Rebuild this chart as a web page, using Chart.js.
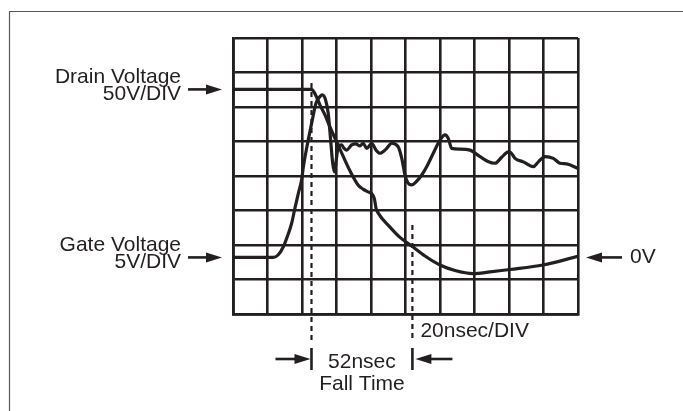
<!DOCTYPE html>
<html>
<head>
<meta charset="utf-8">
<script src="https://cdn.jsdelivr.net/npm/chart.js@4/dist/chart.umd.min.js"></script>
<style>
  body { margin: 0; background: #fff; }
  canvas { display: block; }
</style>
</head>
<body>
<canvas id="scope" width="683" height="411"></canvas>
<script>
// time axis in nsec (20nsec per division), vertical axis in screen divisions
const timeNs = { min: 0, max: 200, perDiv: 20 };
const divisions = { min: 0, max: 8 };

// gate voltage trace (5V/DIV), 0V level at ~1.64 div
const gateTime = [0, 23.4, 26.1, 29.2, 31.6, 34.0, 35.9, 37.9, 39.8, 40.8, 42.7, 45.6, 48.1, 50.4, 51.8,
  53.7, 55.2, 56.6, 57.8, 58.8, 60.1, 61.0, 63.0, 64.3, 65.9, 68.8, 71.3, 73.6, 75.5, 77.5, 80.4,
  82.9, 85.2, 88.7, 92.0, 95.7, 97.8, 99.7, 101.4, 103.6, 106.1, 109.4, 112.5, 116.1, 120.0, 122.9,
  124.8, 126.8, 131.6, 137.4, 143.2, 147.8, 151.9, 155.9, 159.6, 161.2, 163.5, 168.3, 174.1, 177.0,
  180.9, 185.7, 189.6, 193.4, 200];
const gateDiv = [1.64, 1.64, 1.71, 1.95, 2.26, 2.63, 3.07, 3.50, 3.90, 4.27, 4.81, 5.53, 6.11, 6.30, 6.35,
  6.20, 5.82, 5.04, 4.37, 4.12, 4.56, 4.85, 4.90, 4.81, 4.75, 4.90, 4.93, 4.87, 4.95, 4.80, 4.95,
  4.75, 4.66, 4.78, 4.95, 4.85, 4.52, 4.03, 3.80, 3.74, 3.83, 4.03, 4.29, 4.66, 5.04, 5.19,
  5.09, 4.80, 4.78, 4.75, 4.56, 4.42, 4.37, 4.55, 4.70, 4.67, 4.51, 4.41, 4.27, 4.41,
  4.56, 4.51, 4.37, 4.35, 4.22];

// drain voltage trace (50V/DIV)
const drainTime = [0, 45.6, 47.0, 48.7, 50.4, 53.3, 56.2, 62.0, 67.8, 72.5, 75.4, 78.3, 80.6, 82.0, 82.9,
  84.1, 91.0, 96.8, 103.6, 111.3, 120.0, 128.7, 139.1, 149.0, 160.6, 179.7, 200];
const drainDiv = [6.51, 6.51, 6.43, 6.26, 6.06, 5.77, 5.42, 4.78, 4.15, 3.74, 3.62, 3.54, 3.48, 3.33, 3.07,
  2.93, 2.52, 2.22, 1.97, 1.68, 1.42, 1.26, 1.17, 1.22, 1.29, 1.42, 1.67];

// reference levels and fall time markers
const drainLevel = 6.51;
const gateZero = 1.64;
const fallMarkers = [45.5, 104];

const ink = '#231f20';
const font = '21px "Liberation Sans", Arial, sans-serif';

const toPoints = (xs, ys) => xs.map((x, i) => ({ x, y: ys[i] }));

function arrow(ctx, x0, x1, y) {
  // shaft from x0 to the tip at x1
  const dir = Math.sign(x1 - x0);
  ctx.beginPath();
  ctx.moveTo(x0, y);
  ctx.lineTo(x1 - dir * 12, y);
  ctx.lineWidth = 2.6;
  ctx.stroke();
  ctx.beginPath();
  ctx.moveTo(x1, y);
  ctx.lineTo(x1 - dir * 16, y - 5);
  ctx.lineTo(x1 - dir * 16, y + 5);
  ctx.closePath();
  ctx.fill();
}

const annotations = {
  id: 'annotations',
  afterDraw(chart) {
    const { ctx, chartArea, scales } = chart;
    const xs = scales.x, ys = scales.y;
    ctx.save();
    ctx.strokeStyle = ink;
    ctx.fillStyle = ink;

    // page frame
    ctx.strokeStyle = '#58595b';
    ctx.lineWidth = 1.2;
    ctx.beginPath();
    ctx.moveTo(9.5, 411);
    ctx.lineTo(9.5, 11.5);
    ctx.lineTo(683, 11.5);
    ctx.stroke();
    ctx.strokeStyle = ink;

    ctx.font = font;
    ctx.textAlign = 'right';
    ctx.textBaseline = 'alphabetic';

    // channel labels on the left
    const yd = ys.getPixelForValue(drainLevel);
    const yg = ys.getPixelForValue(gateZero);
    const labelRight = chartArea.left - 52;
    ctx.fillText('Drain Voltage', labelRight, yd - 6);
    ctx.fillText('50V/DIV', labelRight, yd + 11);
    ctx.fillText('Gate Voltage', labelRight, yg - 6);
    ctx.fillText('5V/DIV', labelRight, yg + 11);
    arrow(ctx, chartArea.left - 45, chartArea.left - 11, yd);
    arrow(ctx, chartArea.left - 45, chartArea.left - 11, yg);

    // 0V marker on the right
    arrow(ctx, chartArea.right + 44, chartArea.right + 8, yg);
    ctx.textAlign = 'left';
    ctx.textBaseline = 'middle';
    ctx.fillText('0V', chartArea.right + 52, yg);

    // fall time markers
    const [x1, x2] = fallMarkers.map(t => xs.getPixelForValue(t));
    ctx.lineWidth = 2.2;
    ctx.setLineDash([5, 4]);
    ctx.beginPath();
    ctx.moveTo(x1, 83);
    ctx.lineTo(x1, chartArea.bottom + 26);
    ctx.moveTo(x2, 225);
    ctx.lineTo(x2, chartArea.bottom + 26);
    ctx.stroke();
    ctx.setLineDash([]);
    ctx.lineWidth = 2.6;
    const barTop = chartArea.bottom + 34, barBottom = chartArea.bottom + 56;
    ctx.beginPath();
    ctx.moveTo(x1, barTop);
    ctx.lineTo(x1, barBottom);
    ctx.moveTo(x2, barTop);
    ctx.lineTo(x2, barBottom);
    ctx.stroke();
    const ya = chartArea.bottom + 45;
    arrow(ctx, x1 - 36, x1 - 1, ya);
    arrow(ctx, x2 + 40, x2 + 3, ya);

    ctx.textBaseline = 'alphabetic';
    ctx.textAlign = 'center';
    const mid = (x1 + x2) / 2;
    ctx.fillText('52nsec', mid, chartArea.bottom + 54);
    ctx.fillText('Fall Time', mid, chartArea.bottom + 75.5);
    ctx.textAlign = 'left';
    ctx.fillText('20nsec/DIV', x2 + 8, chartArea.bottom + 22.5);

    ctx.restore();
  }
};

new Chart(document.getElementById('scope'), {
  type: 'line',
  data: {
    datasets: [
      { label: 'Drain Voltage', data: toPoints(drainTime, drainDiv) },
      { label: 'Gate Voltage', data: toPoints(gateTime, gateDiv) }
    ]
  },
  options: {
    responsive: false,
    animation: false,
    events: [],
    layout: { padding: { left: 233, right: 105, top: 38, bottom: 97 } },
    elements: {
      point: { radius: 0 },
      line: { borderColor: ink, borderWidth: 3.2, cubicInterpolationMode: 'monotone', fill: false }
    },
    plugins: { legend: { display: false }, tooltip: { enabled: false } },
    scales: {
      x: {
        type: 'linear',
        min: timeNs.min,
        max: timeNs.max,
        afterFit: s => { s.height = 0; },
        ticks: { display: false, stepSize: timeNs.perDiv },
        grid: { color: ink, lineWidth: 2.6, drawTicks: false },
        border: { display: true, color: ink, width: 2.8 }
      },
      y: {
        type: 'linear',
        min: divisions.min,
        max: divisions.max,
        afterFit: s => { s.width = 0; },
        ticks: { display: false, stepSize: 1 },
        grid: { color: ink, lineWidth: 2.6, drawTicks: false },
        border: { display: true, color: ink, width: 2.8 }
      }
    }
  },
  plugins: [annotations]
});
</script>
</body>
</html>
